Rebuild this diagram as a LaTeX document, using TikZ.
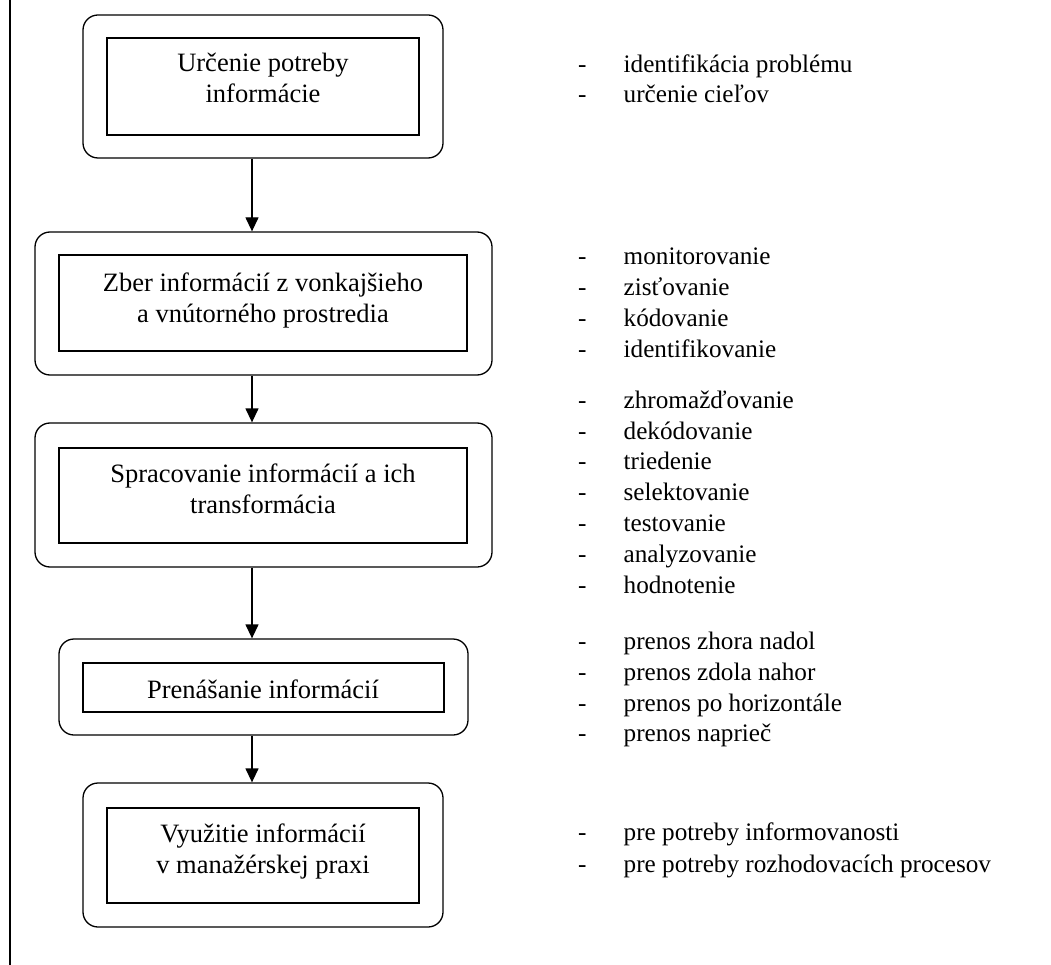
\documentclass[tikz,border=0pt]{standalone}
\usepackage{fontspec}
\setmainfont{Liberation Serif}
\usetikzlibrary{arrows.meta}
\begin{document}
\begin{tikzpicture}[x=1pt,y=-1pt,
  outerbox/.style={draw, rounded corners=15pt, line width=1.3pt, inner sep=0pt},
  innerbox/.style={draw, line width=1.3pt, inner sep=0pt},
  boxtext/.style={align=center, inner sep=0pt, anchor=base, font=\fontsize{26.5}{31}\selectfont},
  item/.style={anchor=base west, inner sep=0pt, font=\fontsize{25.2}{31}\selectfont},
  conn/.style={line width=1.3pt, -{Triangle[length=14pt,width=13pt]}}
]
\useasboundingbox (0,0) rectangle (1051,965);
\fill[white] (0,0) rectangle (1051,965);
\draw[line width=1.3pt] (10,0) -- (10,965);

% outer rounded boxes
\node[outerbox, minimum width=360pt, minimum height=143pt] (o1) at (263,86.5) {};
\node[outerbox, minimum width=457pt, minimum height=143pt] (o2) at (263.5,303.5) {};
\node[outerbox, minimum width=457pt, minimum height=144pt] (o3) at (263.5,495) {};
\node[outerbox, minimum width=409pt, minimum height=96pt] (o4) at (263.5,687) {};
\node[outerbox, minimum width=360pt, minimum height=144pt] (o5) at (263,855) {};

% inner rectangles
\node[innerbox, minimum width=312pt, minimum height=97pt] (r1) at (263,86.5) {};
\node[innerbox, minimum width=408pt, minimum height=96pt] (r2) at (263,303) {};
\node[innerbox, minimum width=408pt, minimum height=95pt] (r3) at (263,495.5) {};
\node[innerbox, minimum width=361pt, minimum height=49pt] (r4) at (263.5,687.5) {};
\node[innerbox, minimum width=312pt, minimum height=95pt] (r5) at (263,855.5) {};

% box texts (anchor base = last line baseline)
\node[boxtext] (t1) at (263,103) {Určenie potreby\\informácie};
\node[boxtext] (t2) at (263,322) {Zber informácií z vonkajšieho\\a vnútorného prostredia};
\node[boxtext] (t3) at (263,513) {Spracovanie informácií a ich\\transformácia};
\node[boxtext] (t4) at (263,698) {Prenášanie informácií};
\node[boxtext] (t5) at (263,873) {Využitie informácií\\v manažérskej praxi};

% connectors
\coordinate (ax) at (252,0);
\draw[conn] (o1.south -| ax) -- (o2.north -| ax);
\draw[conn] (o2.south -| ax) -- (o3.north -| ax);
\draw[conn] (o3.south -| ax) -- (o4.north -| ax);
\draw[conn] (o4.south -| ax) -- (o5.north -| ax);

% lists
\foreach \n/\yy/\t in {
  a1/73/identifikácia problému,
  a2/103/určenie cieľov,
  b1/265/monitorovanie,
  b2/295/zisťovanie,
  b3/326/kódovanie,
  b4/357/identifikovanie,
  c1/408/zhromažďovanie,
  c2/439/dekódovanie,
  c3/469/triedenie,
  c4/500/selektovanie,
  c5/531/testovanie,
  c6/562/analyzovanie,
  c7/593/hodnotenie,
  d1/649/prenos zhora nadol,
  d2/680/prenos zdola nahor,
  d3/711/prenos po horizontále,
  d4/741/prenos naprieč,
  e1/840/pre potreby informovanosti,
  e2/872/pre potreby rozhodovacích procesov}
  \node[item] (\n) at (578,\yy) {\makebox[45.5pt][l]{-}\t};
\end{tikzpicture}
\end{document}
